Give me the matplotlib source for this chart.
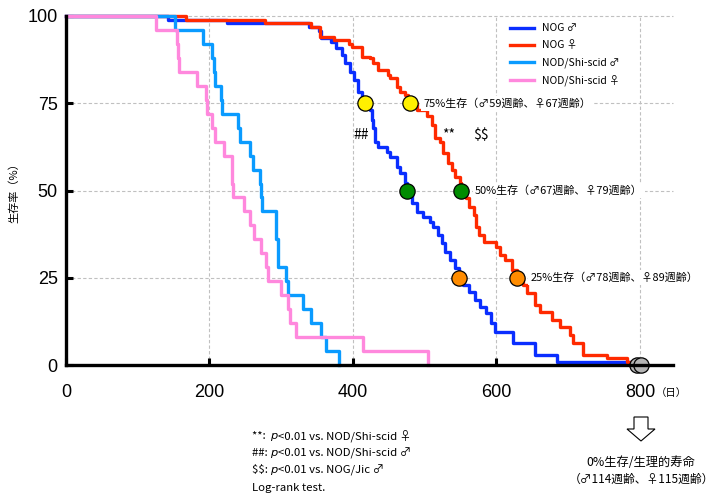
import matplotlib
matplotlib.use("Agg")
import matplotlib.pyplot as plt
from matplotlib.patches import FancyArrow
from matplotlib.transforms import IdentityTransform

plt.rcParams['font.family'] = ['Noto Sans CJK JP', 'DejaVu Sans']

# ---------------- data ----------------
series_names = ["NOG ♂", "NOG ♀", "NOD/Shi-scid ♂", "NOD/Shi-scid ♀"]
series_colors = ["#0A2EFF", "#FF2A00", "#0A9BFF", "#FF88DD"]

nog_m_days = [0, 142, 224, 339, 352, 356, 370, 377, 384, 389, 396, 401, 407, 412, 417, 424, 426, 428,
              430, 431, 435, 447, 452, 461, 466, 473, 475, 482, 489, 498, 507, 512, 519, 524, 528, 535,
              542, 548, 554, 561, 570, 577, 586, 593, 598, 623, 654, 684, 796]
nog_m_surv = [100, 98.9, 97.9, 96.8, 95.7, 93.6, 92.6, 90.7, 88.8, 86.4, 84.0, 81.7, 78.3, 76.4, 75.0,
              73.1, 70.2, 68.0, 66.0, 64.0, 62.6, 61.1, 59.7, 56.8, 54.9, 52.1, 50.0, 46.3, 43.9, 42.5,
              41.1, 39.6, 37.2, 34.9, 32.5, 30.1, 27.7, 25.0, 22.9, 21.0, 18.6, 16.7, 14.8, 11.9, 9.5,
              6.2, 2.9, 1.0, 0]

nog_f_days = [0, 167, 277, 342, 354, 373, 394, 398, 412, 424, 428, 435, 449, 452, 461, 466, 473, 477,
              479, 489, 503, 510, 514, 521, 526, 533, 538, 542, 549, 551, 558, 561, 568, 572, 575, 582,
              600, 605, 612, 621, 628, 637, 642, 654, 661, 677, 689, 702, 707, 721, 754, 782, 801]
nog_f_surv = [100, 98.9, 97.9, 96.8, 94.1, 93.1, 92.0, 91.2, 88.3, 87.9, 86.4, 84.5, 83.1, 82.1, 79.7,
              78.3, 77.4, 76.0, 75.0, 73.1, 71.3, 68.9, 65.1, 64.0, 60.7, 57.8, 55.9, 54.0, 52.1, 50.0,
              47.8, 45.4, 43.0, 39.6, 37.2, 35.3, 33.9, 31.5, 30.1, 27.2, 25.0, 22.9, 20.5, 17.2, 15.3,
              12.9, 11.0, 8.6, 6.2, 2.9, 1.9, 1.0, 0]

scid_m_days = [0, 152, 191, 204, 206, 208, 216, 218, 240, 242, 256, 261, 270, 272, 273, 292, 293, 295,
               296, 307, 310, 330, 342, 355, 363, 380]
scid_m_surv = [100, 96, 92, 88, 84, 80, 76, 72, 68, 64, 60, 56, 52, 48, 44, 40, 36, 32, 28, 24, 20, 16,
               12, 8, 4, 0]

scid_f_days = [0, 125, 155, 156, 157, 182, 195, 197, 204, 208, 220, 231, 232, 233, 248, 256, 262, 272,
               279, 281, 300, 310, 312, 320, 414, 505]
scid_f_surv = [100, 96, 92, 88, 84, 80, 76, 72, 68, 64, 60, 56, 52, 48, 44, 40, 36, 32, 28, 24, 20, 16,
               12, 8, 4, 0]

# median-type markers (male day, female day) at each survival level
marker_levels = [75, 50, 25, 0]
marker_male_days = [417, 475, 548, 796]
marker_female_days = [479, 551, 628, 801]
marker_colors = ["#FFF000", "#008C00", "#FF8C00", "#B4B4B4"]
marker_labels = ["75%生存（♂59週齢、♀67週齢）", "50%生存（♂67週齢、♀79週齢）",
                 "25%生存（♂78週齢、♀89週齢）"]

xticks = [0, 200, 400, 600, 800]
yticks = [0, 25, 50, 75, 100]

footnotes = [("**: ", "<0.01 vs. NOD/Shi-scid ♀"),
             ("##: ", "<0.01 vs. NOD/Shi-scid ♂"),
             ("$$: ", "<0.01 vs. NOG/Jic ♂")]
footnote_last = "Log-rank test."

# ---------------- figure ----------------
W, H = 715, 497
XMAX = 846
fig = plt.figure(figsize=(W / 100, H / 100), dpi=100)
ax = fig.add_axes([66 / W, 1 - 365 / H, (673 - 66) / W, (365 - 16) / H])
ax.set_xlim(0, XMAX)
ax.set_ylim(0, 100)

# grid
for gx in [200, 400, 600, 800]:
    ax.plot([gx, gx], [0, 100], color="#C0C0C0", lw=0.8, ls=(0, (3, 2)), zorder=0)
for gy in [25, 50, 75, 100]:
    ax.plot([0, XMAX], [gy, gy], color="#C0C0C0", lw=0.8, ls=(0, (3, 2)), zorder=0, clip_on=False)

data = [(nog_m_days, nog_m_surv), (nog_f_days, nog_f_surv),
        (scid_m_days, scid_m_surv), (scid_f_days, scid_f_surv)]
for (d, s), c, name in zip(data, series_colors, series_names):
    ax.step(d, s, where="post", color=c, lw=2.4, label=name, clip_on=False, zorder=3)

for lvl, dm, dfm, mc in zip(marker_levels, marker_male_days, marker_female_days, marker_colors):
    ax.plot([dm, dfm], [lvl, lvl], ls="none", marker="o", ms=11, mfc=mc, mec="black", mew=0.9,
            zorder=5, clip_on=False)

for lvl, dfm, lab in zip(marker_levels[:3], marker_female_days[:3], marker_labels):
    ax.text(dfm + 19, lvl, lab, fontsize=7.9, va="center", ha="left", zorder=6,
            bbox=dict(facecolor="white", edgecolor="none", pad=1.5), parse_math=False)

ax.text(412, 66, "##", fontsize=10, ha="center", va="center", parse_math=False)
ax.text(533, 66, "**", fontsize=10, ha="center", va="center", parse_math=False)
ax.text(578, 66, "$$", fontsize=10, ha="center", va="center", parse_math=False)

# axes styling
for sp in ["top", "right"]:
    ax.spines[sp].set_visible(False)
ax.spines["left"].set_linewidth(2.4)
ax.spines["bottom"].set_linewidth(2.4)
ax.spines["left"].set_zorder(7)
ax.spines["bottom"].set_zorder(7)
ax.set_xticks(xticks)
ax.set_yticks(yticks)
ax.tick_params(axis="both", direction="in", length=5, width=2.2, labelsize=13)
ax.tick_params(axis="x", pad=14)
ax.tick_params(axis="y", pad=6)
for lab in ax.get_xticklabels() + ax.get_yticklabels():
    lab.set_fontfamily(["Liberation Sans", "DejaVu Sans"])

ax.set_ylabel("生存率（%）", fontsize=8, labelpad=12)
ax.yaxis.set_label_coords(-0.077, 0.5)

fig.text(656 / W, 1 - 393 / H, "（日）", fontsize=7.5, va="center", ha="left")

leg = ax.legend(loc="upper left", bbox_to_anchor=(505 / W, 1 - 18 / H),
                bbox_transform=fig.transFigure, frameon=False, fontsize=7.5,
                handlelength=2.3, handletextpad=0.8, labelspacing=0.68, borderpad=0)

# footnotes
ys = [436, 453, 470]
for (pre, post), y in zip(footnotes, ys):
    fig.text(252 / W, 1 - y / H, pre, fontsize=8.2, va="center", ha="left", parse_math=False)
    fig.text(270 / W, 1 - y / H, "p", fontsize=8.2, va="center", ha="left", style="italic",
             family=["DejaVu Sans"], parse_math=False)
    fig.text(278 / W, 1 - y / H, post, fontsize=8.2, va="center", ha="left", parse_math=False)
fig.text(252 / W, 1 - 488 / H, footnote_last, fontsize=8.2, va="center", ha="left")

# hollow arrow
arr = FancyArrow(641, H - 417, 0, -24, width=14, head_width=28, head_length=12,
                 length_includes_head=True, facecolor="white", edgecolor="black", lw=0.8,
                 transform=IdentityTransform())
fig.patches.append(arr)
fig.text(641 / W, 1 - 463 / H, "0%生存/生理的寿命", fontsize=8.8, ha="center", va="center")
fig.text(641 / W, 1 - 479 / H, "（♂114週齢、♀115週齢）", fontsize=8.5, ha="center", va="center")

fig.savefig("out.png", dpi=100)
